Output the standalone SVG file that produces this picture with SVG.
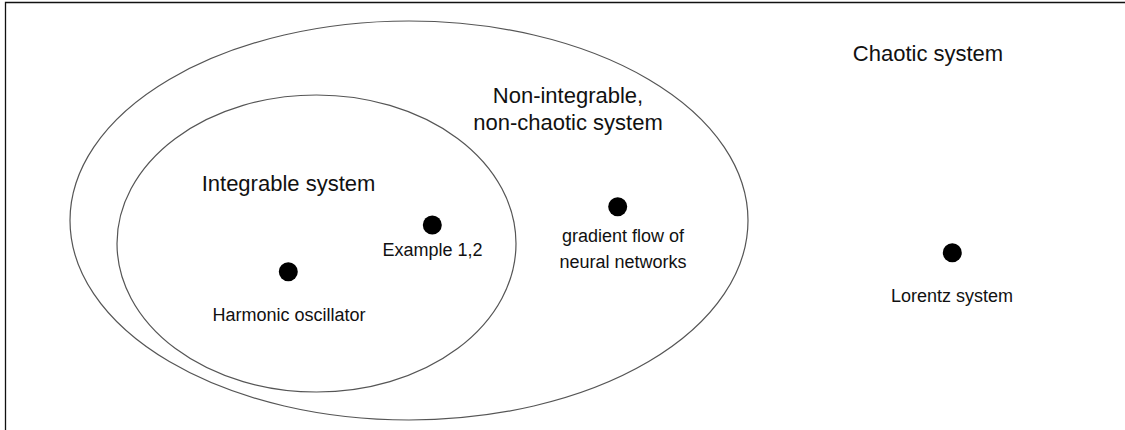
<svg xmlns="http://www.w3.org/2000/svg" width="1125" height="430" viewBox="0 0 1125 430">
<style>
.set{fill:none;stroke:#555;stroke-width:1.2}
.dot{fill:#000}
.big{font-family:"Liberation Sans",Arial,sans-serif;font-size:22px;fill:#111;text-anchor:middle}
.sm{font-family:"Liberation Sans",Arial,sans-serif;font-size:18px;fill:#111;text-anchor:middle}
</style>
<rect width="1125" height="430" fill="#fff"/>
<path d="M5.5,430 V2.5 H1125" fill="none" stroke="#111" stroke-width="1.3"/>
<g id="chaotic">
<text class="big" x="928" y="61">Chaotic system</text>
</g>
<g id="nonintegrable">
<ellipse class="set" cx="409" cy="220.5" rx="339" ry="199.5"/>
<text class="big" x="568" y="103">Non-integrable,</text>
<text class="big" x="568" y="130">non-chaotic system</text>
</g>
<g id="integrable">
<ellipse class="set" cx="316.5" cy="243.5" rx="199.5" ry="148.5"/>
<text class="big" x="288.5" y="191">Integrable system</text>
</g>
<g id="harmonic">
<circle class="dot" cx="288.3" cy="271.7" r="9.5"/>
<text class="sm" x="289" y="321">Harmonic oscillator</text>
</g>
<g id="example">
<circle class="dot" cx="432.3" cy="225" r="9.5"/>
<text class="sm" x="432.5" y="256">Example 1,2</text>
</g>
<g id="gradient">
<circle class="dot" cx="617.7" cy="206.7" r="9.5"/>
<text class="sm" x="623" y="242">gradient flow of</text>
<text class="sm" x="623" y="268">neural networks</text>
</g>
<g id="lorentz">
<circle class="dot" cx="952.3" cy="252.7" r="9.5"/>
<text class="sm" x="952" y="302">Lorentz system</text>
</g>
<g id="connectors"></g>
</svg>
